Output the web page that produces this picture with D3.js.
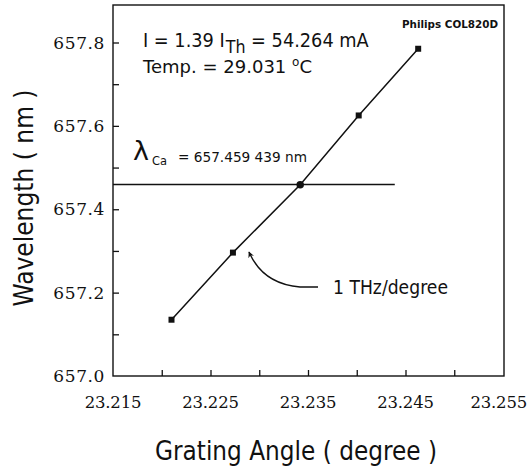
<!DOCTYPE html>
<html>
<head>
<meta charset="utf-8">
<script src="https://cdn.jsdelivr.net/npm/d3@7"></script>
<style>
  html, body { margin: 0; padding: 0; background: #fff; }
  svg { display: block; }
</style>
</head>
<body>
<svg id="chart" width="528" height="471"></svg>
<script>
// ---- data ----
const angle = [23.2210, 23.2273, 23.2342, 23.2402, 23.2463];
const wavelength = [657.135, 657.296, 657.459, 657.625, 657.785];
const markerShape = ["square", "square", "circle", "square", "square"];
const lambdaCa = 657.459439;
const lambdaLineEnd = 23.2439;
const xTickLabels = [23.215, 23.225, 23.235, 23.245, 23.255];
const xTicks = [23.220, 23.225, 23.230, 23.235, 23.240, 23.245, 23.250];
const yTickLabels = [657.0, 657.2, 657.4, 657.6, 657.8];
const yTicks = [657.1, 657.2, 657.3, 657.4, 657.5, 657.6, 657.7, 657.8];

// ---- layout ----
const svg = d3.select("#chart");
const W = 528;
const plotLeft = 113, plotRight = 504, plotTop = 5, plotBottom = 376;
const x = d3.scaleLinear().domain([23.215, 23.255]).range([plotLeft, 503]);
const y = d3.scaleLinear().domain([657.0, 657.8]).range([plotBottom, 42.5]);

const ink = "#111";

// frame
svg.append("rect")
  .attr("x", plotLeft).attr("y", plotTop)
  .attr("width", plotRight - plotLeft).attr("height", plotBottom - plotTop)
  .attr("fill", "none").attr("stroke", ink).attr("stroke-width", 1.4);

// x ticks (inward)
const xAxis = d3.axisBottom(x).tickValues(xTicks).tickSize(-6).tickFormat("");
svg.append("g").attr("transform", `translate(0,${plotBottom})`).call(xAxis)
  .call(g => g.select(".domain").remove())
  .selectAll("line").attr("stroke", ink).attr("stroke-width", 1.3);

// y ticks (inward)
const yAxis = d3.axisLeft(y).tickValues(yTicks).tickSize(-6).tickFormat("");
svg.append("g").attr("transform", `translate(${plotLeft},0)`).call(yAxis)
  .call(g => g.select(".domain").remove())
  .selectAll("line").attr("stroke", ink).attr("stroke-width", 1.3);

// x tick labels
svg.append("g").selectAll("text").data(xTickLabels).join("text")
  .attr("x", d => x(d)).attr("y", 408)
  .attr("text-anchor", "middle")
  .attr("font-family", "DejaVu Serif").attr("font-size", 16.5)
  .attr("letter-spacing", -0.2)
  .attr("fill", ink)
  .text(d => d3.format(".3f")(d))
  .each(function() {
    const w = this.getComputedTextLength();
    const cx = +this.getAttribute("x");
    if (cx + w / 2 > W - 1) this.setAttribute("x", W - 1 - w / 2);
  });

// y tick labels
svg.append("g").selectAll("text").data(yTickLabels).join("text")
  .attr("x", 105).attr("y", d => y(d)).attr("dy", "0.36em")
  .attr("text-anchor", "end")
  .attr("font-family", "DejaVu Serif").attr("font-size", 17)
  .attr("letter-spacing", 0.6)
  .attr("fill", ink)
  .text(d => d3.format(".1f")(d));

// axis titles
svg.append("text")
  .attr("x", 296).attr("y", 460)
  .attr("text-anchor", "middle")
  .attr("font-family", "DejaVu Sans").attr("font-size", 26)
  .attr("textLength", 282).attr("lengthAdjust", "spacingAndGlyphs")
  .attr("fill", ink)
  .text("Grating Angle ( degree )");

svg.append("text")
  .attr("transform", "translate(33,198) rotate(-90)")
  .attr("text-anchor", "middle")
  .attr("font-family", "DejaVu Sans").attr("font-size", 26)
  .attr("textLength", 217).attr("lengthAdjust", "spacingAndGlyphs")
  .attr("fill", ink)
  .text("Wavelength ( nm )");

// lambda horizontal line
svg.append("line")
  .attr("x1", x(23.215)).attr("x2", x(lambdaLineEnd))
  .attr("y1", y(lambdaCa)).attr("y2", y(lambdaCa))
  .attr("stroke", ink).attr("stroke-width", 1.4);

// data line
const pts = angle.map((a, i) => ({a, w: wavelength[i], s: markerShape[i]}));
svg.append("path")
  .datum(pts)
  .attr("d", d3.line().x(d => x(d.a)).y(d => y(d.w)))
  .attr("fill", "none").attr("stroke", ink).attr("stroke-width", 1.5);

// markers
svg.append("g").selectAll("path").data(pts).join("path")
  .attr("transform", d => `translate(${x(d.a)},${y(d.w)})`)
  .attr("d", d => d3.symbol().type(d.s === "circle" ? d3.symbolCircle : d3.symbolSquare)
                   .size(d.s === "circle" ? 44 : 36)())
  .attr("fill", ink);

// annotations
const t1 = svg.append("text")
  .attr("x", 143).attr("y", 47)
  .attr("font-family", "DejaVu Sans").attr("font-size", 19)
  .attr("fill", ink);
t1.append("tspan").text("I = 1.39 I");
t1.append("tspan").attr("dx", 1).attr("dy", 6).attr("font-size", 17).text("Th");
t1.append("tspan").attr("dy", -6).text(" = 54.264 mA");
{
  const w = t1.node().getComputedTextLength();
  const s = 225 / w;
  t1.attr("transform", `translate(143,0) scale(${s},1) translate(-143,0)`);
}

const t2 = svg.append("text")
  .attr("x", 143).attr("y", 73)
  .attr("font-family", "DejaVu Sans").attr("font-size", 18)
  .attr("textLength", 169).attr("lengthAdjust", "spacingAndGlyphs")
  .attr("fill", ink);
t2.append("tspan").text("Temp. = 29.031 ");
t2.append("tspan").attr("dy", -7).attr("font-size", 12).text("o");
t2.append("tspan").attr("dy", 7).text("C");

svg.append("text")
  .attr("x", 402).attr("y", 28)
  .attr("font-family", "DejaVu Sans").attr("font-weight", "bold").attr("font-size", 11)
  .attr("textLength", 96).attr("lengthAdjust", "spacingAndGlyphs")
  .attr("fill", ink)
  .text("Philips COL820D");

svg.append("text")
  .attr("x", 133).attr("y", 160)
  .attr("font-family", "DejaVu Sans").attr("font-size", 27)
  .attr("fill", ink).text("λ");
svg.append("text")
  .attr("x", 152).attr("y", 165)
  .attr("font-family", "DejaVu Sans").attr("font-size", 12)
  .attr("textLength", 15).attr("lengthAdjust", "spacingAndGlyphs")
  .attr("fill", ink).text("Ca");
svg.append("text")
  .attr("x", 178).attr("y", 162)
  .attr("font-family", "DejaVu Sans").attr("font-size", 14)
  .attr("textLength", 129).attr("lengthAdjust", "spacingAndGlyphs")
  .attr("fill", ink).text("= 657.459 439 nm");

svg.append("text")
  .attr("x", 333).attr("y", 294)
  .attr("font-family", "DejaVu Sans").attr("font-size", 19)
  .attr("textLength", 115).attr("lengthAdjust", "spacingAndGlyphs")
  .attr("fill", ink).text("1 THz/degree");

// arrow
const defs = svg.append("defs");
defs.append("marker")
  .attr("id", "ah").attr("viewBox", "0 0 10 10")
  .attr("refX", 9).attr("refY", 5)
  .attr("markerWidth", 9).attr("markerHeight", 6)
  .attr("markerUnits", "userSpaceOnUse")
  .attr("orient", "auto")
  .append("path").attr("d", "M0,0 L10,5 L0,10 L3,5 Z").attr("fill", ink);

svg.append("path")
  .attr("d", "M318,287 L300,287 Q263,284 249,252")
  .attr("fill", "none").attr("stroke", ink).attr("stroke-width", 1.4)
  .attr("marker-end", "url(#ah)");
</script>
</body>
</html>
